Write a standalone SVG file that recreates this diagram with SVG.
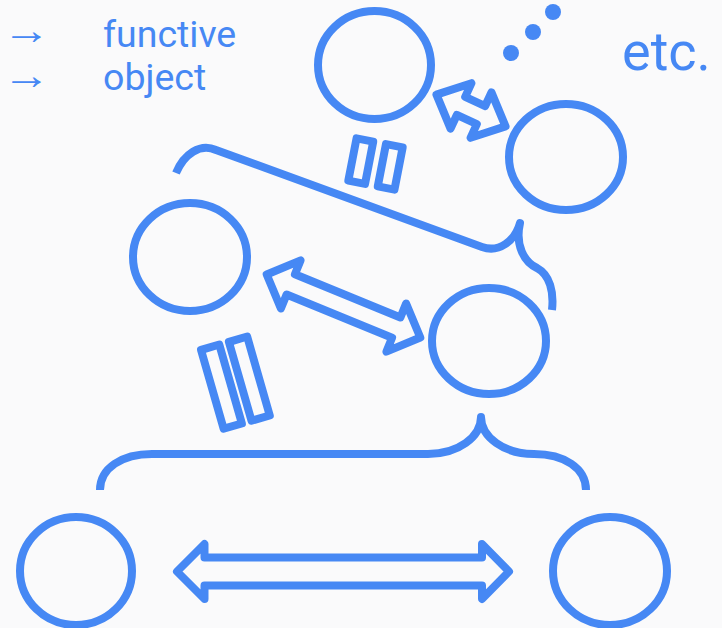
<svg xmlns="http://www.w3.org/2000/svg" width="722" height="628" viewBox="0 0 722 628">
<style>
.s{fill:none;stroke:#4688F4;stroke-width:8;stroke-linejoin:round;stroke-linecap:butt}
.t{fill:#4688F4;font-family:Roboto,"Liberation Sans",sans-serif}
.a{fill:#4688F4;font-family:Roboto,sans-serif;font-size:40px}
</style>
<rect width="722" height="628" fill="#FAFAFB"/>
<g id="legend">
<text class="a" transform="translate(2.5,44.3) scale(1.2,1)">→</text>
<text class="a" transform="translate(2.5,88.7) scale(1.2,1)">→</text>
<text class="t" x="103" y="47" font-size="37.5">functive</text>
<text class="t" x="103" y="90" font-size="37.5">object</text>
</g>
<g id="etc">
<text class="t" x="622" y="70" font-size="54">etc.</text>
<circle cx="511" cy="53" r="8" fill="#4688F4"/>
<circle cx="533" cy="32" r="8" fill="#4688F4"/>
<circle cx="553" cy="12" r="8" fill="#4688F4"/>
</g>
<g id="n-top-left"><ellipse class="s" cx="374.5" cy="65" rx="56.5" ry="54"/></g>
<g id="n-top-right"><ellipse class="s" cx="566" cy="157" rx="57" ry="53"/></g>
<g id="n-mid-left"><ellipse class="s" cx="190" cy="257" rx="57" ry="54"/></g>
<g id="n-mid-right"><ellipse class="s" cx="489" cy="341" rx="57" ry="53"/></g>
<g id="n-bot-left"><ellipse class="s" cx="76" cy="571" rx="56" ry="54"/></g>
<g id="n-bot-right"><ellipse class="s" cx="610" cy="571" rx="57" ry="54"/></g>
<g id="connectors">
<path class="s" d="M177,571.5 L204.5,544 L204.5,557.5 L482,557.5 L482,544 L509,571.5 L482,599 L482,585.5 L204.5,585.5 L204.5,599 Z"/>
<path class="s" transform="translate(343.5,306) rotate(22.3)" d="M-83,0 L-57,-26 L-57,-11 L57,-11 L57,-26 L83,0 L57,26 L57,11 L-57,11 L-57,26 Z"/>
<path class="s" transform="translate(471,110.5) rotate(24.7)" d="M-38,0 L-11,-25 L-11,-10 L11,-10 L11,-25 L38,0 L11,25 L11,10 L-11,10 L-11,25 Z"/>
<path class="s" d="M100,490 C100,468 122,454 152,454 L428,454 C458,454 481,437 481,417 C481,437 504,454 534,454 C564,454 586,468 586,490"/>
<path class="s" d="M176,173 C184,154 200,143 216,150 L482,247 C499,253 515,241 520,223 C515,245 524,262 537,268 C550,275 554,292 552,310"/>
<g transform="translate(375.5,164) rotate(11)">
<rect class="s" x="-23.5" y="-21.5" width="17" height="43"/>
<rect class="s" x="6.5" y="-21.5" width="17" height="43"/>
</g>
<g transform="translate(235.4,382.7) rotate(-16)">
<rect class="s" x="-24" y="-41" width="19" height="82"/>
<rect class="s" x="5" y="-41" width="19" height="82"/>
</g>
</g>
</svg>
